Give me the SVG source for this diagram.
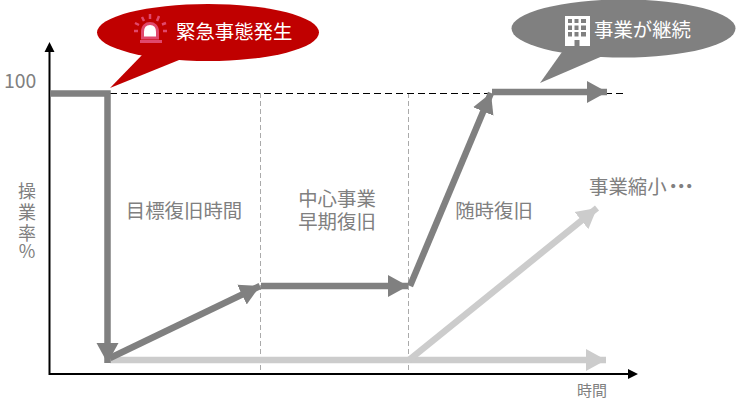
<svg xmlns="http://www.w3.org/2000/svg" width="740" height="400" viewBox="0 0 740 400">
<style>
text{font-family:"Noto Sans CJK JP","Noto Sans",sans-serif;fill:#808080;font-size:19.400px}
.w{fill:#fff}
.c{text-anchor:middle}
.d{fill:none;stroke:#808080;stroke-width:6.500}
.l{fill:none;stroke:#ccc;stroke-width:6.500}
.g{fill:none;stroke:#aaa;stroke-width:1;stroke-dasharray:5 3}
</style>
<defs>
<marker id="dk" markerUnits="userSpaceOnUse" markerWidth="24" markerHeight="24" refX="20" refY="12" orient="auto"><path d="M0 1L20 12L0 23Z" fill="#808080"/></marker>
<marker id="lt" markerUnits="userSpaceOnUse" markerWidth="24" markerHeight="24" refX="20" refY="12" orient="auto"><path d="M0 1L20 12L0 23Z" fill="#ccc"/></marker>
</defs>
<g id="grid">
<path class="g" d="M260.500 93V374M408.500 93V374"/>
<path d="M110 93.500H624" fill="none" stroke="#000" stroke-dasharray="7 4"/>
</g>
<g id="connectors">
<path d="M49.500 50V374H630" fill="none" stroke="#000" stroke-width="2"/>
<path d="M49.500 42L44.500 52H54.500Z M638 374L628 369V379Z"/>
<path class="l" d="M110 360H606" marker-end="url(#lt)"/>
<path class="l" d="M409 360L597 208" marker-end="url(#lt)"/>
<path class="d" d="M50 93.500H107.500V363" marker-end="url(#dk)"/>
<path class="d" d="M110 358L260 286" marker-end="url(#dk)"/>
<path class="d" d="M261 286H408" marker-end="url(#dk)"/>
<path class="d" d="M410 286L491 93" marker-end="url(#dk)"/>
<path class="d" d="M492 92H607" marker-end="url(#dk)"/>
</g>
<g id="axis-labels">
<text x="4" y="88">100</text>
<text x="27" y="198" class="c" style="font-size:18px">操</text>
<text x="27" y="219" class="c" style="font-size:18px">業</text>
<text x="27" y="240" class="c" style="font-size:18px">率</text>
<text x="27" y="258" class="c" style="font-size:18px">%</text>
<text x="592" y="396" class="c" style="font-size:15px">時間</text>
</g>
<g id="phase-labels">
<text x="184" y="218" class="c">目標復旧時間</text>
<text x="337" y="206" class="c">中心事業</text>
<text x="337" y="229" class="c">早期復旧</text>
<text x="494" y="218" class="c">随時復旧</text>
<text x="589" y="194">事業縮小<tspan dx="-3" letter-spacing="-11.400">・・・</tspan></text>
</g>
<g id="emergency">
<ellipse cx="208" cy="32.500" rx="111" ry="28.500" fill="#c00000"/>
<path d="M143 54L110 88L184 58Z" fill="#c00000"/>
<path d="M142.500 38V32C142.500 26 146 23.500 150 23.500C154 23.500 157.500 26 157.500 32V38Z" fill="#fff" stroke="#e0486c" stroke-width="3"/>
<path d="M140 41.500H162" stroke="#e0486c" stroke-width="3"/>
<path d="M135 23L139 25M142 17L144 21M150 14V19M159 16L157 21M166 23L162 24.500M163 31H167M134 31H138" stroke="#e0486c" stroke-width="2.500" fill="none"/>
<text x="176" y="39" class="w">緊急事態発生</text>
</g>
<g id="continue">
<ellipse cx="623.500" cy="28.500" rx="112" ry="29" fill="#808080"/>
<path d="M562 52L540 83L605 55Z" fill="#808080"/>
<path d="M565 16H590V46H565Z" fill="#fff"/>
<path d="M568 19h4v4h-4zM574.500 19h4v4h-4zM581 19h5v4h-5zM568 25.500h4v4.500h-4zM574.500 25.500h4v4.500h-4zM581 25.500h5v4.500h-5zM568 32h4v4.500h-4zM574.500 32h4v4.500h-4zM581 32h5v4.500h-5zM574.500 40h5v6h-5z" fill="#808080"/>
<text x="594" y="37" class="w">事業が継続</text>
</g>
</svg>
